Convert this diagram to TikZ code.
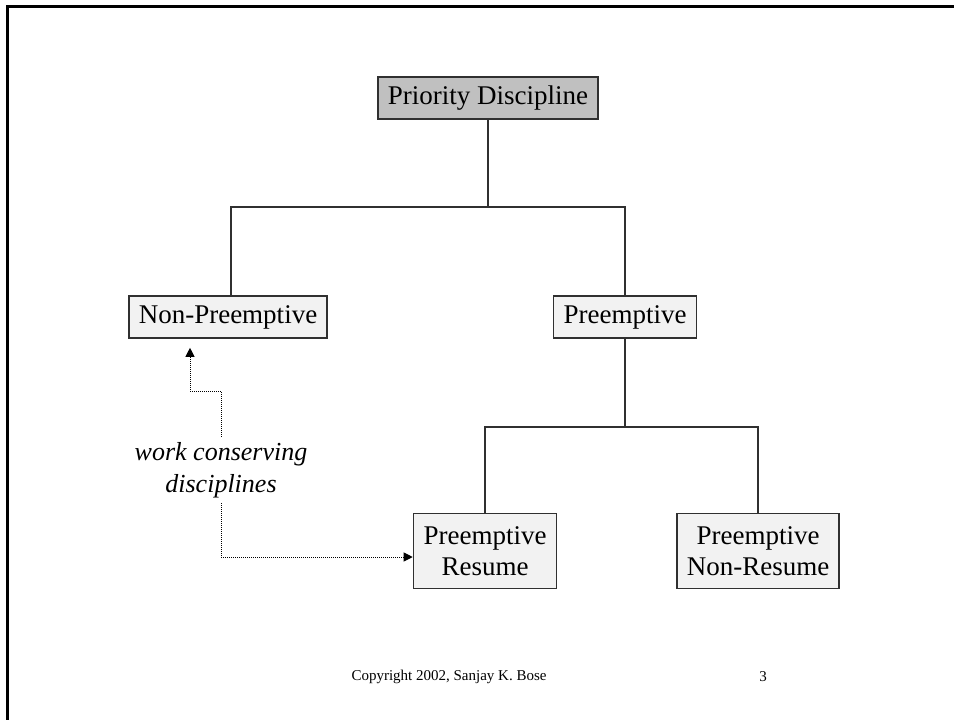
\documentclass[tikz,border=0pt]{standalone}
\usepackage{fontspec}
\setmainfont{Liberation Serif}
\usepackage{xcolor}
\usepackage{tikz}
\usetikzlibrary{arrows.meta,positioning,calc}
\definecolor{TopGray}{HTML}{C0C0C0}
\definecolor{BoxGray}{HTML}{F2F2F2}
\definecolor{EdgeGray}{HTML}{303030}

\begin{document}
\begin{tikzpicture}[x=1pt,y=-1pt,
  box/.style={draw=EdgeGray,line width=1.6pt,fill=BoxGray,inner xsep=10pt,inner ysep=0pt,
    minimum height=42pt,align=center,font=\fontsize{27}{31}\selectfont},
  topbox/.style={box,fill=TopGray},
  twobox/.style={box,minimum height=75pt},
  tree/.style={draw=EdgeGray,line width=1.3pt},
  dotarrow/.style={black,line width=1pt,dash pattern=on 1pt off 1pt,-{Triangle[length=9pt,width=9pt]}}
]
\useasboundingbox (0,0) rectangle (954,720);
% frame
\draw[line width=3pt] (7,720) -- (7,6) -- (954,6);

\node[topbox] (prio) at (488,98) {Priority Discipline};
\node[box] (nonpre) at (228,317) {Non-Preemptive};
\node[box] (pre) at (625,317) {Preemptive};
\node[twobox] (res) at (485,551) {Preemptive\\Resume};
\node[twobox] (nonres) at (758,551) {Preemptive\\Non-Resume};

\coordinate (j1) at (prio.south |- 0,207);
\draw[tree] (prio.south) -- (j1) -| ([xshift=3pt]nonpre.north);
\draw[tree] (j1) -| (pre.north);
\coordinate (j2) at (pre.south |- 0,427);
\draw[tree] (pre.south) -- (j2) -| (res.north);
\draw[tree] (j2) -| (nonres.north);

\node[align=center,font=\fontsize{26}{32}\selectfont\itshape] (wcd) at (221,470)
  {work conserving\\disciplines};
\coordinate (w1) at (221,391);
\coordinate (w2) at (221,557);
\draw[dotarrow] ([yshift=2pt]wcd.north) -- (w1) -| ($(nonpre.south)+(-38,9)$);
\draw[dotarrow] ([yshift=-2pt]wcd.south) -- (w2) -- (res.west |- w2);

\node[font=\fontsize{15}{18}\selectfont] (copy) at (449,677) {Copyright 2002, Sanjay K. Bose};
\node[font=\fontsize{15}{18}\selectfont] (page) at (763,677) {3};
\end{tikzpicture}
\end{document}
